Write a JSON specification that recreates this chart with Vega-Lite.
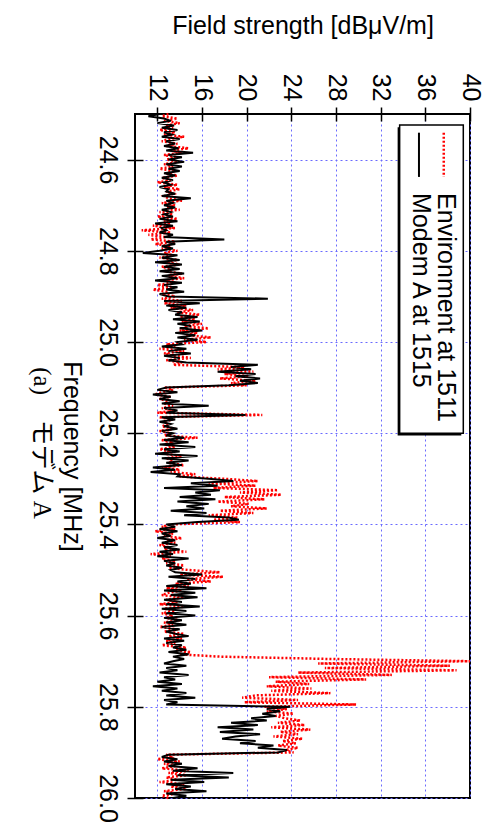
{
"$schema": "https://vega.github.io/schema/vega-lite/v6.json",
"width": 335, "height": 684,
"autosize": {"type": "none"},
"padding": {"left": 135, "top": 114, "right": 19, "bottom": 29},
"background": "white",
"config": {
  "view": {"stroke": "black", "strokeWidth": 2},
  "font": "Liberation Sans",
  "axis": {"labelFont": "Liberation Sans", "titleFont": "Liberation Sans", "labelColor": "black", "titleColor": "black", "titleFontWeight": "normal", "tickColor": "black", "labelFontSize": 25, "titleFontSize": 25, "labelOverlap": false, "labelFlush": false}
},
"title": {"text": "(a)　モデム A", "orient": "left", "angle": 90, "baseline": "top", "font": "Liberation Serif, Noto Sans CJK JP", "fontSize": 25, "fontWeight": "normal", "color": "black", "offset": -21, "dx": -13, "anchor": "middle"},
"data": {"values": [
{"f":24.500,"e":13.0,"m":12.2},{"f":24.505,"e":12.4,"m":11.2},{"f":24.510,"e":13.8,"m":12.6},{"f":24.515,"e":12.6,"m":13.2},{"f":24.520,"e":14.0,"m":12.0},
{"f":24.525,"e":12.8,"m":13.5},{"f":24.530,"e":13.4,"m":12.4},{"f":24.535,"e":12.2,"m":13.8},{"f":24.540,"e":13.6,"m":12.6},{"f":24.545,"e":12.6,"m":13.3},
{"f":24.550,"e":14.4,"m":12.4},{"f":24.555,"e":13.0,"m":14.0},{"f":24.560,"e":12.4,"m":12.8},{"f":24.565,"e":13.8,"m":13.6},{"f":24.570,"e":12.8,"m":12.6},
{"f":24.575,"e":14.8,"m":13.9},{"f":24.580,"e":13.2,"m":12.8},{"f":24.585,"e":14.2,"m":15.2},{"f":24.590,"e":12.6,"m":13.0},{"f":24.595,"e":13.8,"m":14.2},
{"f":24.600,"e":12.8,"m":13.0},{"f":24.605,"e":14.0,"m":14.4},{"f":24.610,"e":12.6,"m":12.8},{"f":24.615,"e":13.4,"m":14.2},{"f":24.620,"e":12.2,"m":13.0},
{"f":24.625,"e":13.6,"m":14.0},{"f":24.630,"e":12.8,"m":12.6},{"f":24.635,"e":13.8,"m":13.6},{"f":24.640,"e":12.4,"m":12.4},{"f":24.645,"e":13.2,"m":13.4},
{"f":24.650,"e":12.0,"m":12.6},{"f":24.655,"e":13.8,"m":13.2},{"f":24.660,"e":12.6,"m":12.2},{"f":24.665,"e":14.0,"m":13.0},{"f":24.670,"e":12.8,"m":12.8},
{"f":24.675,"e":13.4,"m":13.6},{"f":24.680,"e":12.6,"m":12.4},{"f":24.685,"e":13.0,"m":15.0},{"f":24.690,"e":14.2,"m":12.8},{"f":24.695,"e":12.4,"m":13.4},
{"f":24.700,"e":13.6,"m":12.6},{"f":24.705,"e":12.8,"m":13.6},{"f":24.710,"e":14.0,"m":12.4},{"f":24.715,"e":12.2,"m":13.2},{"f":24.720,"e":13.4,"m":12.6},
{"f":24.725,"e":12.0,"m":13.4},{"f":24.730,"e":13.8,"m":12.2},{"f":24.735,"e":12.6,"m":13.8},{"f":24.740,"e":13.2,"m":11.8},{"f":24.745,"e":11.6,"m":13.4},
{"f":24.750,"e":13.6,"m":12.4},{"f":24.755,"e":10.6,"m":12.8},{"f":24.760,"e":13.2,"m":12.2},{"f":24.765,"e":11.2,"m":13.4},{"f":24.770,"e":12.8,"m":12.6},
{"f":24.775,"e":11.4,"m":18.0},{"f":24.780,"e":13.6,"m":12.8},{"f":24.785,"e":11.8,"m":13.6},{"f":24.790,"e":13.2,"m":12.4},{"f":24.795,"e":12.4,"m":13.4},
{"f":24.800,"e":13.8,"m":12.2},{"f":24.805,"e":12.6,"m":10.7},{"f":24.810,"e":13.4,"m":13.8},{"f":24.815,"e":12.2,"m":12.4},{"f":24.820,"e":13.8,"m":14.0},
{"f":24.825,"e":12.8,"m":11.8},{"f":24.830,"e":14.0,"m":14.2},{"f":24.835,"e":12.4,"m":12.6},{"f":24.840,"e":13.2,"m":14.0},{"f":24.845,"e":12.6,"m":12.2},
{"f":24.850,"e":14.2,"m":14.4},{"f":24.855,"e":13.0,"m":12.4},{"f":24.860,"e":14.4,"m":13.8},{"f":24.865,"e":12.6,"m":11.8},{"f":24.870,"e":13.6,"m":14.2},
{"f":24.875,"e":12.0,"m":12.6},{"f":24.880,"e":13.4,"m":13.8},{"f":24.885,"e":11.6,"m":12.8},{"f":24.890,"e":13.0,"m":14.4},{"f":24.895,"e":12.4,"m":12.2},
{"f":24.900,"e":13.6,"m":13.0},{"f":24.905,"e":12.4,"m":21.9},{"f":24.910,"e":14.2,"m":12.6},{"f":24.915,"e":12.6,"m":15.8},{"f":24.920,"e":14.6,"m":12.8},
{"f":24.925,"e":13.2,"m":14.6},{"f":24.930,"e":15.2,"m":13.0},{"f":24.935,"e":13.8,"m":14.2},{"f":24.940,"e":15.8,"m":13.6},{"f":24.945,"e":14.0,"m":15.6},
{"f":24.950,"e":15.4,"m":13.4},{"f":24.955,"e":14.2,"m":15.8},{"f":24.960,"e":16.0,"m":13.8},{"f":24.965,"e":14.4,"m":15.0},{"f":24.970,"e":16.6,"m":14.0},
{"f":24.975,"e":14.0,"m":16.0},{"f":24.980,"e":15.6,"m":13.6},{"f":24.985,"e":14.6,"m":15.4},{"f":24.990,"e":16.8,"m":13.8},{"f":24.995,"e":14.4,"m":15.6},
{"f":25.000,"e":16.4,"m":13.8},{"f":25.005,"e":12.8,"m":14.2},{"f":25.010,"e":13.6,"m":12.4},{"f":25.015,"e":12.2,"m":14.6},{"f":25.020,"e":14.4,"m":13.0},
{"f":25.025,"e":12.6,"m":15.0},{"f":25.030,"e":13.4,"m":12.6},{"f":25.035,"e":15.0,"m":14.0},{"f":25.040,"e":12.8,"m":13.0},{"f":25.045,"e":14.2,"m":14.6},
{"f":25.050,"e":13.4,"m":21.0},{"f":25.055,"e":19.8,"m":18.6},{"f":25.060,"e":17.4,"m":20.4},{"f":25.065,"e":20.6,"m":17.4},{"f":25.070,"e":18.0,"m":20.8},
{"f":25.075,"e":20.2,"m":19.0},{"f":25.080,"e":17.6,"m":21.2},{"f":25.085,"e":20.8,"m":19.4},{"f":25.090,"e":18.6,"m":21.0},{"f":25.095,"e":20.0,"m":18.4},
{"f":25.100,"e":12.6,"m":12.8},{"f":25.105,"e":13.4,"m":12.0},{"f":25.110,"e":12.4,"m":13.8},{"f":25.115,"e":11.8,"m":11.6},{"f":25.120,"e":13.2,"m":13.2},
{"f":25.125,"e":12.2,"m":12.2},{"f":25.130,"e":13.0,"m":14.0},{"f":25.135,"e":12.6,"m":12.4},{"f":25.140,"e":13.4,"m":16.6},{"f":25.145,"e":12.4,"m":12.6},
{"f":25.150,"e":13.6,"m":13.8},{"f":25.155,"e":12.0,"m":12.8},{"f":25.160,"e":21.4,"m":19.9},{"f":25.165,"e":12.2,"m":12.4},{"f":25.170,"e":13.4,"m":13.6},
{"f":25.175,"e":12.6,"m":12.2},{"f":25.180,"e":13.0,"m":13.2},{"f":25.185,"e":12.4,"m":12.6},{"f":25.190,"e":13.6,"m":13.8},{"f":25.195,"e":12.2,"m":12.4},
{"f":25.200,"e":13.2,"m":13.4},{"f":25.205,"e":12.6,"m":12.8},{"f":25.210,"e":15.6,"m":14.4},{"f":25.215,"e":12.4,"m":12.6},{"f":25.220,"e":13.2,"m":14.8},
{"f":25.225,"e":12.8,"m":12.2},{"f":25.230,"e":13.6,"m":15.4},{"f":25.235,"e":12.2,"m":12.6},{"f":25.240,"e":13.0,"m":14.0},{"f":25.245,"e":12.6,"m":11.8},
{"f":25.250,"e":14.2,"m":15.6},{"f":25.255,"e":12.8,"m":12.4},{"f":25.260,"e":13.4,"m":14.8},{"f":25.265,"e":13.0,"m":12.8},{"f":25.270,"e":14.4,"m":14.2},
{"f":25.275,"e":12.4,"m":11.6},{"f":25.280,"e":14.0,"m":13.6},{"f":25.285,"e":13.2,"m":11.4},{"f":25.290,"e":15.4,"m":14.0},{"f":25.295,"e":14.0,"m":13.8},
{"f":25.300,"e":18.0,"m":16.6},{"f":25.305,"e":21.0,"m":18.8},{"f":25.310,"e":16.6,"m":15.0},{"f":25.315,"e":20.8,"m":17.4},{"f":25.320,"e":17.0,"m":12.6},
{"f":25.325,"e":22.8,"m":17.6},{"f":25.330,"e":19.4,"m":15.4},{"f":25.335,"e":23.1,"m":16.8},{"f":25.340,"e":18.0,"m":14.0},{"f":25.345,"e":21.6,"m":17.2},
{"f":25.350,"e":17.4,"m":13.8},{"f":25.355,"e":20.2,"m":16.6},{"f":25.360,"e":18.6,"m":14.6},{"f":25.365,"e":21.8,"m":16.2},{"f":25.370,"e":17.6,"m":13.2},
{"f":25.375,"e":20.6,"m":16.4},{"f":25.380,"e":16.6,"m":14.4},{"f":25.385,"e":19.2,"m":18.4},{"f":25.390,"e":17.0,"m":19.3},{"f":25.395,"e":19.4,"m":15.6},
{"f":25.400,"e":13.2,"m":12.8},{"f":25.405,"e":12.4,"m":13.6},{"f":25.410,"e":13.6,"m":12.2},{"f":25.415,"e":11.8,"m":13.8},{"f":25.420,"e":13.4,"m":12.4},
{"f":25.425,"e":12.6,"m":13.2},{"f":25.430,"e":14.2,"m":12.0},{"f":25.435,"e":12.8,"m":13.6},{"f":25.440,"e":13.6,"m":12.4},{"f":25.445,"e":12.2,"m":13.8},
{"f":25.450,"e":13.0,"m":12.6},{"f":25.455,"e":12.6,"m":14.0},{"f":25.460,"e":14.6,"m":12.2},{"f":25.465,"e":11.4,"m":13.4},{"f":25.470,"e":13.2,"m":12.0},
{"f":25.475,"e":12.4,"m":14.8},{"f":25.480,"e":13.6,"m":12.6},{"f":25.485,"e":12.8,"m":13.6},{"f":25.490,"e":14.4,"m":12.8},{"f":25.495,"e":13.0,"m":14.2},
{"f":25.500,"e":14.8,"m":13.2},{"f":25.505,"e":17.6,"m":13.6},{"f":25.510,"e":14.0,"m":16.0},{"f":25.515,"e":17.9,"m":13.0},{"f":25.520,"e":14.6,"m":15.4},
{"f":25.525,"e":16.8,"m":13.8},{"f":25.530,"e":13.6,"m":15.0},{"f":25.535,"e":14.8,"m":12.8},{"f":25.540,"e":12.8,"m":16.4},{"f":25.545,"e":14.2,"m":12.6},
{"f":25.550,"e":13.0,"m":15.4},{"f":25.555,"e":12.4,"m":13.2},{"f":25.560,"e":14.4,"m":15.6},{"f":25.565,"e":12.8,"m":12.6},{"f":25.570,"e":13.8,"m":14.2},
{"f":25.575,"e":12.2,"m":12.8},{"f":25.580,"e":14.6,"m":15.8},{"f":25.585,"e":12.6,"m":12.4},{"f":25.590,"e":13.6,"m":14.6},{"f":25.595,"e":12.4,"m":12.8},
{"f":25.600,"e":13.4,"m":15.4},{"f":25.605,"e":12.8,"m":12.6},{"f":25.610,"e":14.0,"m":14.2},{"f":25.615,"e":12.6,"m":12.8},{"f":25.620,"e":13.4,"m":14.6},
{"f":25.625,"e":12.2,"m":12.4},{"f":25.630,"e":13.8,"m":14.0},{"f":25.635,"e":12.6,"m":12.8},{"f":25.640,"e":14.4,"m":13.6},{"f":25.645,"e":13.0,"m":14.8},
{"f":25.650,"e":14.2,"m":12.6},{"f":25.655,"e":12.8,"m":14.4},{"f":25.660,"e":13.6,"m":12.8},{"f":25.665,"e":12.4,"m":14.2},{"f":25.670,"e":14.6,"m":13.4},
{"f":25.675,"e":13.6,"m":14.6},{"f":25.680,"e":15.0,"m":13.0},{"f":25.685,"e":14.0,"m":14.8},{"f":25.690,"e":17.6,"m":13.4},{"f":25.695,"e":27.2,"m":14.4},
{"f":25.700,"e":40.0,"m":13.4},{"f":25.705,"e":26.4,"m":12.6},{"f":25.710,"e":38.2,"m":14.6},{"f":25.715,"e":27.0,"m":12.8},{"f":25.720,"e":38.8,"m":13.8},
{"f":25.725,"e":24.6,"m":12.2},{"f":25.730,"e":33.0,"m":14.8},{"f":25.735,"e":22.0,"m":12.6},{"f":25.740,"e":30.7,"m":13.6},{"f":25.745,"e":22.6,"m":12.0},
{"f":25.750,"e":25.6,"m":14.2},{"f":25.755,"e":21.8,"m":11.6},{"f":25.760,"e":25.8,"m":13.8},{"f":25.765,"e":22.2,"m":12.4},{"f":25.770,"e":27.5,"m":14.6},
{"f":25.775,"e":20.8,"m":12.8},{"f":25.780,"e":19.6,"m":15.4},{"f":25.785,"e":24.6,"m":12.6},{"f":25.790,"e":19.8,"m":13.8},{"f":25.795,"e":29.8,"m":12.8},
{"f":25.800,"e":21.6,"m":23.9},{"f":25.805,"e":23.6,"m":21.8},{"f":25.810,"e":21.8,"m":23.0},{"f":25.815,"e":24.2,"m":21.4},{"f":25.820,"e":22.6,"m":22.6},
{"f":25.825,"e":23.4,"m":20.4},{"f":25.830,"e":24.8,"m":21.8},{"f":25.835,"e":22.8,"m":18.6},{"f":25.840,"e":25.2,"m":21.0},{"f":25.845,"e":22.2,"m":17.4},
{"f":25.850,"e":25.7,"m":20.6},{"f":25.855,"e":23.0,"m":17.6},{"f":25.860,"e":24.6,"m":21.2},{"f":25.865,"e":22.4,"m":19.0},{"f":25.870,"e":25.0,"m":17.8},
{"f":25.875,"e":23.2,"m":20.8},{"f":25.880,"e":24.4,"m":19.4},{"f":25.885,"e":22.8,"m":22.4},{"f":25.890,"e":24.6,"m":21.0},{"f":25.895,"e":23.4,"m":23.6},
{"f":25.900,"e":24.2,"m":22.8},{"f":25.905,"e":12.8,"m":13.0},{"f":25.910,"e":13.2,"m":12.4},{"f":25.915,"e":12.0,"m":13.8},{"f":25.920,"e":14.0,"m":12.6},
{"f":25.925,"e":12.6,"m":14.2},{"f":25.930,"e":13.6,"m":13.0},{"f":25.935,"e":12.4,"m":15.6},{"f":25.940,"e":14.8,"m":13.4},{"f":25.945,"e":13.0,"m":18.8},
{"f":25.950,"e":14.6,"m":13.8},{"f":25.955,"e":12.8,"m":18.4},{"f":25.960,"e":13.8,"m":13.2},{"f":25.965,"e":12.2,"m":16.2},{"f":25.970,"e":14.4,"m":12.8},
{"f":25.975,"e":13.2,"m":15.0},{"f":25.980,"e":14.6,"m":13.6},{"f":25.985,"e":12.6,"m":16.4},{"f":25.990,"e":13.8,"m":12.8},{"f":25.995,"e":12.4,"m":14.6},
{"f":26.000,"e":13.0,"m":13.4}
]},
"layer": [
  {
    "mark": {"type": "line", "color": "#ff0000", "strokeDash": [2, 2], "strokeWidth": 2.5},
    "encoding": {
      "x": {"field": "e", "type": "quantitative", "scale": {"domain": [10, 40], "nice": false, "zero": false},
        "axis": {"orient": "top", "values": [12,14,16,18,20,22,24,26,28,30,32,34,36,38,40],
          "labelExpr": "datum.value % 4 === 0 ? datum.label : ''",
          "labelAngle": 90, "labelAlign": "right", "labelBaseline": "middle", "labelPadding": 6,
          "offset": -7, "tickSize": 14, "tickWidth": 1.5, "domain": false,
          "grid": true, "gridColor": "#6a6aff", "gridDash": [2, 3], "gridWidth": 1,
          "title": "Field strength [dBμV/m]", "titleAngle": 0, "titleY": -88, "titleBaseline": "alphabetic"}},
      "y": {"field": "f", "type": "quantitative", "scale": {"domain": [24.5, 26.0], "nice": false, "zero": false, "reverse": true},
        "axis": {"orient": "left", "values": [24.6, 24.8, 25.0, 25.2, 25.4, 25.6, 25.8, 26.0], "format": ".1f",
          "labelAngle": 90, "labelAlign": "center", "labelBaseline": "top", "labelPadding": 8,
          "offset": -8, "tickSize": 16, "tickWidth": 1.5, "domain": false,
          "grid": true, "gridColor": "#6a6aff", "gridDash": [2, 3], "gridWidth": 1,
          "title": "Frequency [MHz]", "titleAngle": 90, "titleX": -72, "titleBaseline": "middle"}},
      "order": {"field": "f", "type": "quantitative"}
    }
  },
  {
    "mark": {"type": "line", "color": "black", "strokeWidth": 2},
    "encoding": {
      "x": {"field": "m", "type": "quantitative"},
      "y": {"field": "f", "type": "quantitative"},
      "order": {"field": "f", "type": "quantitative"}
    }
  },
  {
    "data": {"values": [{}]},
    "mark": {"type": "rect", "fill": "black"},
    "encoding": {
      "x": {"datum": 33.52, "type": "quantitative"}, "x2": {"datum": 39.22},
      "y": {"datum": 24.529, "type": "quantitative"}, "y2": {"datum": 25.205}
    }
  },
  {
    "data": {"values": [{}]},
    "mark": {"type": "rect", "fill": "white", "stroke": "black", "strokeWidth": 1.5},
    "encoding": {
      "x": {"datum": 33.7, "type": "quantitative"}, "x2": {"datum": 39.4},
      "y": {"datum": 24.524, "type": "quantitative"}, "y2": {"datum": 25.2}
    }
  },
  {
    "data": {"values": [{}]},
    "mark": {"type": "rule", "color": "#ff0000", "strokeDash": [2, 2], "strokeWidth": 2.5},
    "encoding": {
      "x": {"datum": 37.65, "type": "quantitative"},
      "y": {"datum": 24.541, "type": "quantitative"}, "y2": {"datum": 24.638}
    }
  },
  {
    "data": {"values": [{}]},
    "mark": {"type": "rule", "color": "black", "strokeWidth": 2},
    "encoding": {
      "x": {"datum": 35.43, "type": "quantitative"},
      "y": {"datum": 24.541, "type": "quantitative"}, "y2": {"datum": 24.638}
    }
  },
  {
    "data": {"values": [{}]},
    "mark": {"type": "text", "angle": 90, "align": "left", "baseline": "middle", "fontSize": 25, "font": "Liberation Sans", "color": "black"},
    "encoding": {
      "x": {"datum": 37.85, "type": "quantitative"},
      "y": {"datum": 24.6735, "type": "quantitative"},
      "text": {"value": "Environment at 1511"}
    }
  },
  {
    "data": {"values": [{}]},
    "mark": {"type": "text", "angle": 90, "align": "left", "baseline": "middle", "fontSize": 25, "font": "Liberation Sans", "color": "black"},
    "encoding": {
      "x": {"datum": 35.6, "type": "quantitative"},
      "y": {"datum": 24.6735, "type": "quantitative"},
      "text": {"value": "Modem A at 1515"}
    }
  }
]
}
